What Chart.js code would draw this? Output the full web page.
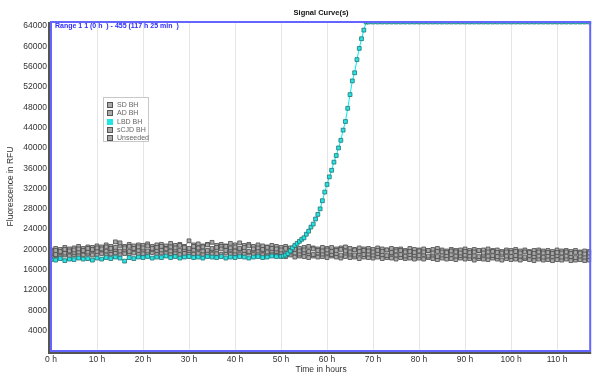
<!DOCTYPE html>
<html>
<head>
<meta charset="utf-8">
<script src="https://cdn.jsdelivr.net/npm/chart.js@4/dist/chart.umd.min.js"></script>
<style>
  body { margin: 0; background: #fff; }
  #wrap { position: relative; width: 596px; height: 375px; }
  #legend {
    position: absolute; left: 103px; top: 97px; width: 46px; height: 45px;
    border: 1px solid #c8c8c8; background: #fff;
    font: 7px "Liberation Sans", Arial, sans-serif; color: #666;
    box-sizing: border-box; padding: 3px 0 0 3px;
  }
  #legend div { height: 8.3px; line-height: 8.3px; white-space: nowrap; }
  #legend i {
    display: inline-block; width: 4px; height: 4px; margin-right: 4px;
    border: 1px solid #555; background: #aaa; vertical-align: middle;
  }
</style>
</head>
<body>
<div id="wrap">
  <canvas id="signalChart" width="596" height="375"></canvas>
  <div id="legend"></div>
</div>
<script>
// time points (hours) shared by the gray series
const hours = [
  0,1,2,3,4,5,6,7,8,9,10,11,12,13,14,15,16,17,18,19,
  20,21,22,23,24,25,26,27,28,29,30,31,32,33,34,35,36,37,38,39,
  40,41,42,43,44,45,46,47,48,49,50,51,52,53,54,55,56,57,58,59,
  60,61,62,63,64,65,66,67,68,69,70,71,72,73,74,75,76,77,78,79,
  80,81,82,83,84,85,86,87,88,89,90,91,92,93,94,95,96,97,98,99,
  100,101,102,103,104,105,106,107,108,109,110,111,112,113,114,115,116,117
];

const sdBH = [
  19500,19800,19600,20000,19700,19900,20100,19800,20200,20000,
  20300,20100,20500,20200,20400,21300,20300,20600,20200,20500,
  20300,20700,20200,20400,20600,20100,20500,20300,20800,20400,
  20200,20600,20300,20500,20900,20200,20400,20100,20600,20300,
  20500,20200,20400,20700,20100,20300,20000,20400,20200,20100,
  19900,20200,19800,20000,19700,19900,19600,20100,19800,19700,
  19900,19600,19800,20000,19700,19500,19900,19600,19800,19700,
  19500,19800,19600,19900,19400,19700,19800,19500,19600,19400,
  19700,19500,19800,19300,19600,19500,19400,19700,19500,19300,
  19600,19400,19500,19800,19300,19500,19600,19400,19300,19500,
  19400,19600,19300,19500,19400,19200,19500,19300,19400,19200,
  19400,19300,19500,19200,19400,19300,19100,19300
];

const adBH = [
  19200,19000,19400,19300,19600,19400,19500,19700,19500,19800,
  19600,19900,19700,19800,20000,19700,19900,19600,20100,19800,
  19900,19700,20000,19800,19900,20200,19700,19900,19800,20000,
  19800,19900,20100,19700,19800,20000,19900,20600,19800,19900,
  19700,20000,19800,19600,19900,19700,19800,19500,19700,19600,
  19400,19200,19500,19300,19100,19400,19200,19000,19300,19100,
  19300,19000,19200,18900,19300,19100,18900,19200,19000,19100,
  18900,19200,19000,18800,19100,18900,19000,18700,19000,18900,
  18800,19000,18700,18900,18600,18900,18800,19000,18700,18800,
  18900,18700,18800,18600,18900,18700,18800,18600,18900,18700,
  18600,18800,18700,18500,18800,18600,18700,18500,18700,18600,
  18800,18500,18700,18600,18400,18700,18500,18600
];

const scjdBH = [
  18600,18800,18500,18900,18700,19000,18800,18900,19100,18900,
  19000,19200,18900,19100,19300,19000,19200,19100,19300,19000,
  19200,19100,19400,19000,19300,19200,19100,19300,19000,19200,
  19300,19100,19200,19000,19300,19100,19200,19000,19300,19100,
  19200,19000,19100,19300,19000,19100,18900,19200,19000,18900,
  18800,18600,18900,18500,18700,18600,18400,18700,18500,18600,
  18400,18700,18500,18300,18600,18400,18500,18200,18500,18400,
  18300,18500,18200,18400,18300,18100,18400,18200,18300,18100,
  18300,18100,18400,18200,18000,18300,18100,18200,18000,18300,
  18100,18200,17900,18200,18100,18000,18300,18100,17900,18200,
  18000,18100,17900,18200,18000,17800,18100,17900,18000,17800,
  18000,17900,18100,17800,17900,18000,17800,17900
];

const unseeded = [
  19900,20200,20000,20400,20100,20300,20600,20200,20500,20400,
  20700,20500,20900,20600,21500,20800,20600,21000,20700,20900,
  20800,21100,20600,20900,21000,20700,21200,20800,21000,20600,
  21700,20900,21100,20700,21000,21400,20800,21000,20700,21200,
  20900,21300,20800,21000,20600,20900,20700,20500,20800,20600,
  20400,20600,20300,20500,20200,20400,20600,20300,20100,20400,
  20200,20400,20100,20300,20500,20200,20000,20300,20100,20200,
  20000,20300,20100,19900,20200,20000,20100,19800,20200,20000,
  19900,20100,19800,20000,20200,19900,19700,20000,19800,19900,
  20100,19800,20000,19700,19900,20100,19800,19900,19600,19900,
  19800,20000,19700,19900,19600,19800,19900,19700,19800,19600,
  19900,19700,19800,19600,19800,19500,19700,19600
];

// LBD BH has denser sampling through the rise
const lbdHours = [
  0,1,2,3,4,5,6,7,8,9,10,11,12,13,14,15,16,17,18,19,
  20,21,22,23,24,25,26,27,28,29,30,31,32,33,34,35,36,37,38,39,
  40,41,42,43,44,45,46,47,48,49,
  50,50.5,51,51.5,52,52.5,53,53.5,54,54.5,55,55.5,56,56.5,57,57.5,58,58.5,59,59.5,
  60,60.5,61,61.5,62,62.5,63,63.5,64,64.5,65,65.5,66,66.5,67,67.5,68,68.5,
  69,70,71,72,73,74,75,76,77,78,79,80,81,82,83,84,85,86,87,88,89,
  90,91,92,93,94,95,96,97,98,99,100,101,102,103,104,105,106,107,108,109,
  110,111,112,113,114,115,116,117
];

const lbdBH = [
  18000,17900,18200,17800,18100,18000,18300,18100,18200,17900,
  18300,18100,18400,18200,18500,18300,17700,18400,18200,18500,
  18400,18600,18300,18500,18400,18700,18400,18600,18300,18500,
  18600,18400,18500,18300,18600,18500,18400,18600,18300,18500,
  18400,18600,18500,18300,18500,18600,18400,18500,18700,18600,
  18600,18700,18900,19200,19700,20300,20800,21200,21600,22000,
  22300,23000,23600,24400,25000,26000,26900,28000,29600,31300,
  32800,34300,35600,37200,38500,40000,41500,43500,45200,47800,
  50500,53200,54800,57400,59600,61500,63200,64800,
  64800,64800,64800,64800,64800,64800,64800,64800,64800,64800,64800,
  64800,64800,64800,64800,64800,64800,64800,64800,64800,64800,
  64800,64800,64800,64800,64800,64800,64800,64800,64800,64800,
  64800,64800,64800,64800,64800,64800,64800,64800,64800,64800,
  64800,64800,64800,64800,64800,64800,64800,64800
];

const seriesNames = ["SD BH", "AD BH", "LBD BH", "sCJD BH", "Unseeded"];
const yTickValues = [4000, 8000, 12000, 16000, 20000, 24000, 28000, 32000,
                     36000, 40000, 44000, 48000, 52000, 56000, 60000, 64000];
const xTickValues = [0, 10, 20, 30, 40, 50, 60, 70, 80, 90, 100, 110];
const yRange = [0, 64800];
const xRange = [0, 117.42];

const FONT = '"Liberation Sans", Arial, sans-serif';
const GRAY = "#a9a9a9", GRAY_EDGE = "#4a4a4a";
const CYAN = "#22e6e6", CYAN_EDGE = "#2a7070";

function pairs(xs, ys) {
    return ys.map((y, i) => ({ x: xs[i], y: y }));
}

function grayDataset(label, values) {
    return {
        label: label,
        data: pairs(hours, values),
        borderColor: "#5a5a5a",
        borderWidth: 0.7,
        backgroundColor: GRAY,
        pointBorderColor: GRAY_EDGE,
        pointBorderWidth: 0.8,
        pointStyle: "rect",
        pointRadius: 2.7,
        order: 1
    };
}

// frame, title and range text
const framePlugin = {
    id: "frame",
    afterDraw(chart) {
        const ctx = chart.ctx;
        const a = chart.chartArea;
        ctx.save();
        ctx.strokeStyle = "#555";
        ctx.lineWidth = 2;
        ctx.beginPath();
        ctx.moveTo(a.left - 2, a.top);
        ctx.lineTo(a.left - 2, a.bottom + 2);
        ctx.lineTo(a.right, a.bottom + 2);
        ctx.stroke();
        ctx.strokeStyle = "#6464ff";
        ctx.lineWidth = 2;
        ctx.strokeRect(a.left, a.top, a.right - a.left - 1, a.bottom - a.top);

        ctx.fillStyle = "#2d2dff";
        ctx.font = "bold 7px " + FONT;
        ctx.textBaseline = "middle";
        ctx.textAlign = "left";
        ctx.fillText("Range 1 1 (0 h  ) - 455 (117 h 25 min  )", a.left + 4, a.top + 4);

        ctx.fillStyle = "#111";
        ctx.font = "bold 7.5px " + FONT;
        ctx.textAlign = "center";
        ctx.fillText("Signal Curve(s)", (a.left + a.right) / 2, 13);
        ctx.restore();
    }
};

new Chart(
    document.getElementById("signalChart"),
    {
        type: "line",
        data: {
            datasets: [
                grayDataset(seriesNames[0], sdBH),
                grayDataset(seriesNames[1], adBH),
                {
                    label: seriesNames[2],
                    data: pairs(lbdHours, lbdBH),
                    borderColor: "#00eeee",
                    borderWidth: 1,
                    backgroundColor: CYAN,
                    pointBorderColor: CYAN_EDGE,
                    pointBorderWidth: 0.8,
                    pointStyle: "rect",
                    pointRadius: 2.7,
                    order: 0
                },
                grayDataset(seriesNames[3], scjdBH),
                grayDataset(seriesNames[4], unseeded)
            ]
        },
        options: {
            responsive: false,
            animation: false,
            devicePixelRatio: 1,
            layout: { padding: { top: 22, right: 2, left: 0, bottom: 0 } },
            plugins: {
                legend: { display: false },
                tooltip: { enabled: false }
            },
            scales: {
                x: {
                    type: "linear",
                    min: xRange[0],
                    max: xRange[1],
                    afterFit: s => { s.height = 24; },
                    afterBuildTicks: s => { s.ticks = xTickValues.map(v => ({ value: v })); },
                    border: { display: false },
                    grid: { color: "#e6e6e6", lineWidth: 1, drawTicks: false },
                    ticks: {
                        padding: 4,
                        color: "#333",
                        font: { family: FONT, size: 8.5 },
                        callback: v => v + " h"
                    },
                    title: {
                        display: true,
                        text: "Time in hours",
                        color: "#333",
                        font: { family: FONT, size: 8.5 },
                        padding: { top: 0, bottom: 0 }
                    }
                },
                y: {
                    min: yRange[0],
                    max: yRange[1],
                    afterFit: s => { s.width = 51; },
                    afterBuildTicks: s => { s.ticks = yTickValues.map(v => ({ value: v })); },
                    border: { display: false },
                    grid: { display: false, drawTicks: false },
                    ticks: {
                        padding: 4,
                        color: "#333",
                        font: { family: FONT, size: 8.5 },
                        callback: v => String(v)
                    },
                    title: {
                        display: true,
                        text: "Fluorescence in RFU",
                        color: "#333",
                        font: { family: FONT, size: 8.5 },
                        padding: { top: 6, bottom: 0 }
                    }
                }
            }
        },
        plugins: [framePlugin]
    }
);

// legend box inside the plot
const legendBox = document.getElementById("legend");
seriesNames.forEach(name => {
    const row = document.createElement("div");
    const mark = document.createElement("i");
    if (name === "LBD BH") {
        mark.style.background = CYAN;
        mark.style.borderColor = CYAN;
    }
    row.appendChild(mark);
    row.appendChild(document.createTextNode(name));
    legendBox.appendChild(row);
});
</script>
</body>
</html>
